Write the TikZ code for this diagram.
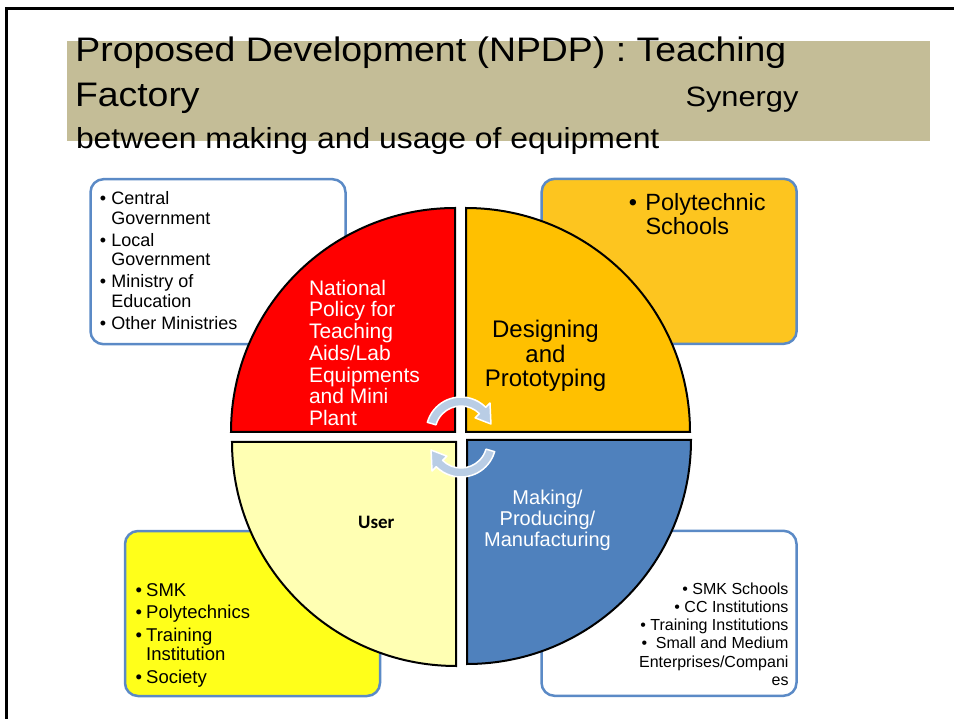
\documentclass[tikz,border=0pt]{standalone}
\usepackage{fontspec}
\setmainfont{Liberation Sans}
\newfontfamily\titlefont{Liberation Sans}[FakeStretch=1.1]
\newfontfamily\userfont{Carlito}
\definecolor{titletan}{HTML}{C4BD97}
\definecolor{boxblue}{HTML}{5B8AC6}
\definecolor{boxorange}{HTML}{FDC51F}
\definecolor{boxyellow}{HTML}{FFFF1A}
\definecolor{policyred}{HTML}{FF0000}
\definecolor{designorange}{HTML}{FFC000}
\definecolor{makeblue}{HTML}{4F81BD}
\definecolor{userpale}{HTML}{FFFFB3}
\definecolor{turnblue}{HTML}{B9CDE5}
\newcommand{\fsize}[2]{\fontsize{#1}{#2}\selectfont}
\newcommand{\bul}[1]{\makebox[#1][l]{\textbullet}}

\begin{document}
\begin{tikzpicture}
[
x=1pt, y=-1pt,
infobox/.style = {draw=boxblue, line width=2.5pt, rounded corners=13pt, minimum width=255pt, minimum height=165pt, inner sep=0pt},
sector/.style  = {draw=black, line width=2pt},
txt/.style     = {inner sep=0pt, outer sep=0pt},
turn/.style    = {fill=turnblue, draw=white, line width=1.5pt, line join=round},
]
\useasboundingbox (0,0) rectangle (954,719);
\draw[line width=3pt] (6,725) -- (6,9) -- (960,9);

\fill[titletan] (67,41) rectangle (930,141);
\node at (75.4,61.7)[txt, anchor=base west] (title1) {\titlefont\fsize{34}{40}Proposed Development (NPDP) : Teaching};
\node at (75,106.7)[txt, anchor=base west] (title2) {\titlefont\fsize{34}{40}Factory};
\node at (685.5,106.7)[txt, anchor=base west] (synergy) {\titlefont\fsize{28}{32}Synergy};
\node at (76,149)[txt, anchor=base west] (title3) {\titlefont\fsize{29}{32}between making and usage of equipment};

\node at (218,261.7)[infobox, fill=white] (govbox) {};
\node at (669.2,261.3)[infobox, fill=boxorange] (polybox) {};
\node at (252.5,613.5)[infobox, fill=boxyellow] (userbox) {};
\node at (669,613.3)[infobox, fill=white] (makerbox) {};

\node at (99.8,191.4)[txt, anchor=north west, align=left, font=\fsize{18}{19.7}] (govlist)
  {\bul{11.5pt}Central\\\hspace*{11.5pt}Government\\[2.3pt]\bul{11.5pt}Local\\\hspace*{11.5pt}Government\\[2.3pt]\bul{11.5pt}Ministry of\\\hspace*{11.5pt}Education\\[2.3pt]\bul{11.5pt}Other Ministries};
\node at (628.8,193.9)[txt, anchor=north west, align=left, font=\fsize{23.5}{23.3}] (polylist)
  {\bul{16.7pt}Polytechnic\\\hspace*{16.7pt}Schools};
\node at (135.7,583.5)[txt, anchor=north west, align=left, font=\fsize{18.5}{19.5}] (userlist)
  {\bul{10.5pt}SMK\\[3pt]\bul{10.5pt}Polytechnics\\[3pt]\bul{10.5pt}Training\\\hspace*{10.5pt}Institution\\[3pt]\bul{10.5pt}Society};
\node at (788.5,582.5)[txt, anchor=north east, align=right, font=\fsize{16}{18.3}] (makerlist)
  {\textbullet\ SMK Schools\\\textbullet\ CC Institutions\\\textbullet\ Training Institutions\\\textbullet\ \ Small and Medium\\Enterprises/Compani\\es};

\filldraw[sector, fill=policyred] (455,432) -- ++(-224,0) arc[start angle=180, end angle=270, radius=224] -- cycle;
\filldraw[sector, fill=designorange] (466,432) -- ++(0,-224) arc[start angle=270, end angle=360, radius=224] -- cycle;
\filldraw[sector, fill=makeblue] (467,440) -- ++(224,0) arc[start angle=0, end angle=90, radius=224] -- cycle;
\filldraw[sector, fill=userpale] (456,442) -- ++(0,224) arc[start angle=90, end angle=180, radius=224] -- cycle;

\node at (309,280)[txt, anchor=north west, align=left, text=white, font=\fsize{21}{21.7}] (policytext)
  {National\\Policy for\\Teaching\\Aids/Lab\\Equipments\\and Mini\\Plant};
\node at (545.5,320.3)[txt, anchor=north, align=center, font=\fsize{24}{24.5}] (designtext)
  {Designing\\and\\Prototyping};
\node at (547.5,490.4)[txt, anchor=north, align=center, text=white, font=\fsize{20}{21}] (maketext)
  {Making/\\Producing/\\Manufacturing};
\node at (376.3,528.3)[txt, anchor=base, font=\userfont\bfseries\fsize{19}{22}] (usertext) {User};

\foreach \r in {0,180}
  \filldraw[turn, shift={(461,437)}, rotate=\r, shift={(0,-5)}] (196:35) arc[start angle=196, end angle=315, radius=35]
    -- (315:41) -- (345:31) -- (315:20) -- (315:26) arc[start angle=315, end angle=196, radius=26] -- cycle;
\end{tikzpicture}
\end{document}
